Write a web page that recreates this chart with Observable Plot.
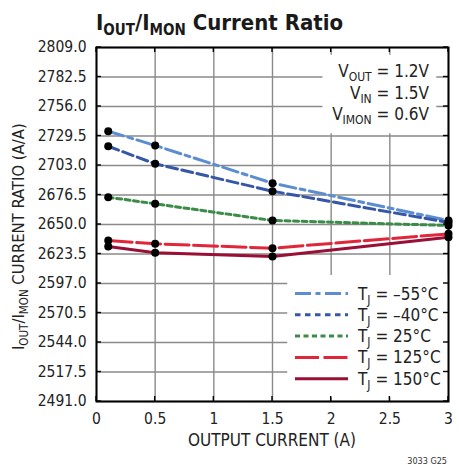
<!DOCTYPE html>
<html><head><meta charset="utf-8">
<script src="https://cdn.jsdelivr.net/npm/d3@7"></script>
<script src="https://cdn.jsdelivr.net/npm/@observablehq/plot@0.6"></script>
<style>body{margin:0;background:#fff} svg{overflow:visible}</style>
</head><body><div id="chart"></div>
<script>
// ---- data ----
const current = [0.1, 0.5, 1.5, 3];
const seriesNames = ["–55°C", "–40°C", "25°C", "125°C", "150°C"];
const ratio_m55 = [2733.8, 2721.0, 2687.1, 2653.6];
const ratio_m40 = [2720.3, 2704.5, 2679.9, 2651.8];
const ratio_25  = [2674.5, 2668.6, 2653.6, 2649.1];
const ratio_125 = [2635.6, 2632.7, 2628.7, 2641.6];
const ratio_150 = [2630.2, 2624.6, 2621.3, 2638.6];
const xTicks = [0, 0.5, 1, 1.5, 2, 2.5, 3];
const xTickLabels = ["0", "0.5", "1", "1.5", "2", "2.5", "3"];
const yTicks = [2491.0, 2517.5, 2544.0, 2570.5, 2597.0, 2623.5, 2650.0, 2676.5, 2703.0, 2729.5, 2756.0, 2782.5, 2809.0];
const yTickLabels = ["2491.0","2517.5","2544.0","2570.5","2597.0","2623.5","2650.0","2676.5","2703.0","2729.5","2756.0","2782.5","2809.0"];
const allSeries = [ratio_m55, ratio_m40, ratio_25, ratio_125, ratio_150];

// ---- styles ----
const colors = ["#5b8dd0", "#3656a8", "#3a8c48", "#e1263a", "#990f35"];
const dashPlot = ["16,4.5,5,4.5", "11,4.5", "5,3.5", "24,4.5", null];
const dashLegend = ["16,4.5,5,4.5", "5.5,4.5", "5,3.5", "24,4.5", null];
const FONT = "'Liberation Sans Narrow', 'DejaVu Sans Condensed', 'Arial Narrow', sans-serif";

const tables = allSeries.map((vals, i) => current.map((c, j) => ({x: c, y: vals[j], s: seriesNames[i]})));
const allPoints = tables.flat();

// white masks (annotation + legend backgrounds), in data units
const masks = [
  {x1: 1.93, x2: 2.90, y1: 2731.5, y2: 2802.0},
  {x1: 1.63, x2: 3.0, y1: 2494.5, y2: 2604.2}
];

const marks = [
  Plot.gridX(xTicks, {stroke: "#8a8a8a", strokeOpacity: 1, strokeWidth: 1.4}),
  Plot.gridY(yTicks, {stroke: "#8a8a8a", strokeOpacity: 1, strokeWidth: 1.4}),
  Plot.rect(masks, {x1: "x1", x2: "x2", y1: "y1", y2: "y2", fill: "white"}),
  ...tables.map((t, i) => Plot.line(t, {x: "x", y: "y", stroke: colors[i], strokeWidth: 3, strokeDasharray: dashPlot[i]})),
  Plot.dot(allPoints, {x: "x", y: "y", r: 4, fill: "black"}),
  Plot.frame({stroke: "black", strokeWidth: 2}),
  Plot.axisX(xTicks, {tickSize: 0, tickPadding: 11, tickFormat: (d, i) => xTickLabels[i], fontSize: 15.5, label: null}),
  Plot.axisY(yTicks, {tickSize: 0, tickPadding: 10, tickFormat: (d, i) => yTickLabels[i], fontSize: 15.5, label: null})
];

const plot = Plot.plot({
  width: 459, height: 465,
  marginLeft: 96, marginRight: 11, marginTop: 47, marginBottom: 64,
  style: {fontFamily: FONT, fontSize: "15px", color: "#222", background: "white"},
  x: {domain: [0, 3]},
  y: {domain: [2491, 2809]},
  marks
});
document.getElementById("chart").appendChild(plot);

const svg = d3.select(plot);
const xs = plot.scale("x"), ys = plot.scale("y");
const X = v => xs.apply(v), Y = v => ys.apply(v);
const fLeft = X(0), fRight = X(3), fTop = Y(2809), fBottom = Y(2491);

// inward ticks on all four sides
const tg = svg.append("g").attr("stroke", "black").attr("stroke-width", 1.4);
xTicks.forEach(v => {
  tg.append("line").attr("x1", X(v)).attr("x2", X(v)).attr("y1", fBottom).attr("y2", fBottom - 5);
  tg.append("line").attr("x1", X(v)).attr("x2", X(v)).attr("y1", fTop).attr("y2", fTop + 5);
});
yTicks.forEach(v => {
  tg.append("line").attr("y1", Y(v)).attr("y2", Y(v)).attr("x1", fLeft).attr("x2", fLeft + 5);
  tg.append("line").attr("y1", Y(v)).attr("y2", Y(v)).attr("x1", fRight).attr("x2", fRight - 5);
});

// helper: text with subscripts; parts = [[text, isSub], ...]
function richText(g, parts, size, subSize, subDy, anchor) {
  const t = g.append("text").attr("font-size", size).attr("font-family", FONT).attr("fill", "#222")
    .attr("text-anchor", anchor || "start");
  parts.forEach(([s, sub], k) => {
    const prevSub = k > 0 && parts[k - 1][1];
    const ts = t.append("tspan").text(s);
    if (sub) ts.attr("font-size", subSize).attr("dy", prevSub ? 0 : subDy);
    else if (prevSub) ts.attr("dy", -subDy);
  });
  return t;
}

// title
richText(svg.append("g").attr("transform", "translate(96,30)"),
  [["I", false], ["OUT", true], ["/I", false], ["MON", true], [" Current Ratio", false]], 22, 15, 5)
  .attr("font-weight", "bold").attr("fill", "#1a1a1a");

// y-axis label
richText(svg.append("g").attr("transform", `translate(24,350) rotate(-90)`),
  [["I", false], ["OUT", true], ["/I", false], ["MON", true], [" CURRENT RATIO (A/A)", false]], 16.5, 11.5, 3.5, "start");

// x-axis label
svg.append("text").attr("x", (fLeft + fRight) / 2).attr("y", 446).attr("text-anchor", "middle")
  .attr("font-family", FONT).attr("font-size", 17).attr("fill", "#222").text("OUTPUT CURRENT (A)");

// figure code
svg.append("text").attr("x", 447).attr("y", 464).attr("text-anchor", "end")
  .attr("font-family", FONT).attr("font-size", 9).attr("fill", "#333").text("3033 G25");

// annotation
const annLines = [
  [["V", false], ["OUT", true], [" = 1.2V", false]],
  [["V", false], ["IN", true], [" = 1.5V", false]],
  [["V", false], ["IMON", true], [" = 0.6V", false]]
];
annLines.forEach((p, i) => {
  richText(svg.append("g").attr("transform", `translate(429,${77 + i * 21.7})`), p, 17, 12, 4, "end");
});

// legend
const lg = svg.append("g");
seriesNames.forEach((name, i) => {
  const yy = 293.5 + i * 21.3;
  const ln = lg.append("line").attr("x1", 295).attr("x2", 348).attr("y1", yy).attr("y2", yy)
    .attr("stroke", colors[i]).attr("stroke-width", 3);
  if (dashLegend[i]) ln.attr("stroke-dasharray", dashLegend[i]);
  richText(lg.append("g").attr("transform", `translate(358,${yy + 6})`),
    [["T", false], ["J", true], [" = " + name, false]], 17, 12, 4, "start");
});
</script>
</body></html>
